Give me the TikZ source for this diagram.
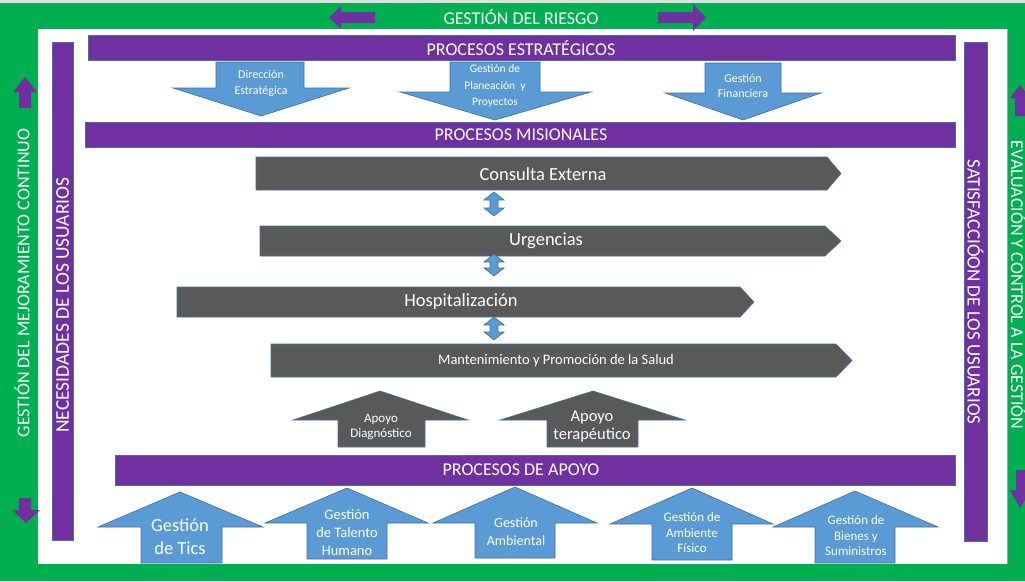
\documentclass[tikz,border=0pt]{standalone}
\usepackage{fontspec}
\setmainfont{Carlito}
\definecolor{grn}{HTML}{00B050}
\definecolor{purp}{HTML}{7030A0}
\definecolor{blu}{HTML}{5B9BD5}
\definecolor{bluedge}{HTML}{41719C}
\definecolor{dgray}{HTML}{595959}
\begin{document}
\begin{tikzpicture}[x=1pt,y=-1pt,
  purpbar/.style={fill=purp,draw=bluedge,line width=0.5pt},
  purparr/.style={fill=purp,draw=none},
  bluearr/.style={fill=blu,draw=bluedge,line width=0.6pt,line join=miter},
  grayarr/.style={fill=dgray,draw=bluedge,line width=0.6pt,line join=miter},
  wtxt/.style={text=white,inner sep=0pt,align=center},
  big/.style={wtxt,font=\fontsize{18}{22}\selectfont},
  mis/.style={wtxt,font=\fontsize{18.5}{22}\selectfont},
  sml/.style={wtxt,font=\fontsize{11.5}{15.5}\selectfont}
]
\useasboundingbox (0,0) rectangle (1025,581);
\fill[white] (0,0) rectangle (1025,581);
\fill[black!12] (0,0) rectangle (1025,3);
% green frame
\fill[grn] (0,3) rectangle (1025,581);
\fill[white] (38,29) rectangle (1007,564);
\draw[bluedge!60,line width=0.4pt] (1007,29) -- (1007,564);

% top band
\node[big] (riesgo) at (521,17) {GESTIÓN DEL RIESGO};
\fill[purparr] (329,17.5) -- (341,6) -- (341,12) -- (375,12) -- (375,23) -- (341,23) -- (341,29) -- cycle;
\fill[purparr] (706,17.5) -- (693,4) -- (693,12) -- (658,12) -- (658,23) -- (693,23) -- (693,31) -- cycle;

% left band
\node[big,rotate=90] (mejora) at (22,283) {GESTIÓN DEL MEJORAMIENTO CONTINUO};
\fill[purparr] (25,77) -- (37,92) -- (31,92) -- (31,108) -- (19,108) -- (19,92) -- (13,92) -- cycle;
\fill[purparr] (19,498) -- (31,498) -- (31,510) -- (40,510) -- (26,523) -- (12,510) -- (19,510) -- cycle;

% right band
\node[big,rotate=-90] (evalua) at (1018.5,285) {EVALUACIÓN Y CONTROL A LA GESTIÓN};
\begin{scope}
\clip (1007,29) rectangle (1025,564);
\fill[purparr] (1020,85) -- (1030,98) -- (1025,98) -- (1025,116) -- (1015,116) -- (1015,98) -- (1010,98) -- cycle;
\fill[purparr] (1016,470) -- (1026,470) -- (1026,490) -- (1031,490) -- (1020,508) -- (1010,490) -- (1016,490) -- cycle;
\end{scope}

% vertical purple bars
\draw[purpbar] (52,42) rectangle (73,540);
\node[wtxt,rotate=90,font=\fontsize{19.5}{22}\selectfont] (necesid) at (62.5,305) {NECESIDADES DE LOS USUARIOS};
\draw[purpbar] (964,42) rectangle (987,541);
\node[wtxt,rotate=-90,font=\fontsize{19}{22}\selectfont] (satisf) at (975.5,292) {SATISFACCIÓON DE LOS USUARIOS};

% horizontal purple bars
\draw[purpbar] (88,35) rectangle (955,60);
\node[big] (estrat) at (521,48) {PROCESOS ESTRATÉGICOS};
\draw[purpbar] (85,122) rectangle (955,147);
\node[big] (misio) at (521,135) {PROCESOS MISIONALES};
\draw[purpbar] (115,455) rectangle (955,485);
\node[big] (apoyo) at (521,470) {PROCESOS DE APOYO};

% strategic down arrows
\draw[bluearr] (216,62) -- (304,62) -- (304,88) -- (349,88) -- (261,116) -- (173,88) -- (216,88) -- cycle;
\node[sml,font=\fontsize{12}{16}\selectfont] (direc) at (261,83) {Dirección\\Estratégica};
\draw[bluearr] (450,62) -- (540,62) -- (540,92) -- (591,92) -- (495,120) -- (400,92) -- (450,92) -- cycle;
\node[sml,font=\fontsize{11.5}{16.5}\selectfont] (planea) at (495,86) {Gestión de\\Planeación~~y\\Proyectos};
\draw[bluearr] (705,63) -- (781,63) -- (781,93) -- (821,93) -- (743,120) -- (665,93) -- (705,93) -- cycle;
\node[sml,font=\fontsize{12}{15.5}\selectfont] (financ) at (743,86) {Gestión\\Financiera};

% misional pentagons
\draw[grayarr] (256,157) -- (827,157) -- (841,173.5) -- (827,190) -- (256,190) -- cycle;
\node[mis] (consulta) at (543,174) {Consulta Externa};
\draw[grayarr] (260,226) -- (825,226) -- (841,241) -- (825,256) -- (260,256) -- cycle;
\node[mis] (urgen) at (546,241) {Urgencias};
\draw[grayarr] (177,287) -- (740,287) -- (754,302) -- (740,317) -- (177,317) -- cycle;
\node[mis] (hosp) at (461,302) {Hospitalización};
\draw[grayarr] (271,344) -- (836,344) -- (852,360.5) -- (836,377) -- (271,377) -- cycle;
\node[wtxt,font=\fontsize{14.5}{17}\selectfont] (mant) at (556,361) {Mantenimiento y Promoción de la Salud};

% small double arrows
\foreach \t/\b in {192/216, 254/276, 317/340}{
  \draw[bluearr] (494,\t) -- (504,\t+8) -- (498,\t+8) -- (498,\b-8) -- (504,\b-8) -- (494,\b)
     -- (484,\b-8) -- (490,\b-8) -- (490,\t+8) -- (484,\t+8) -- cycle;
}

% apoyo gray up arrows
\draw[grayarr] (338,447) -- (338,420) -- (293,420) -- (380,391) -- (468,420) -- (425,420) -- (425,447) -- cycle;
\node[wtxt,font=\fontsize{13}{15.5}\selectfont] (diag) at (381,427) {Apoyo\\Diagnóstico};
\draw[grayarr] (547,447) -- (547,420) -- (500,420) -- (593,391) -- (685,420) -- (638,420) -- (638,447) -- cycle;
\node[wtxt,font=\fontsize{16.5}{18}\selectfont] (terap) at (592,427) {Apoyo\\terapéutico};

% support blue up arrows
\draw[bluearr] (141,563) -- (141,527) -- (98,527) -- (180,492) -- (263,527) -- (222,527) -- (222,563) -- cycle;
\node[wtxt,font=\fontsize{18.5}{23}\selectfont] (tics) at (180,537) {Gestión\\de Tics};
\draw[bluearr] (307,559) -- (307,523) -- (265,523) -- (347,488) -- (428,523) -- (387,523) -- (387,559) -- cycle;
\node[wtxt,font=\fontsize{14.5}{18}\selectfont] (talento) at (347,533) {Gestión\\de Talento\\Humano};
\draw[bluearr] (475,558) -- (475,523) -- (433,523) -- (515,487) -- (597,523) -- (555,523) -- (555,558) -- cycle;
\node[wtxt,font=\fontsize{14}{18}\selectfont] (ambient) at (516,532) {Gestión\\Ambiental};
\draw[bluearr] (652,560) -- (652,524) -- (610,524) -- (692,488) -- (773,524) -- (732,524) -- (732,560) -- cycle;
\node[wtxt,font=\fontsize{13}{15.5}\selectfont] (fisico) at (692,533) {Gestión de\\Ambiente\\Físico};
\draw[bluearr] (815,563) -- (815,527) -- (773,527) -- (855,491) -- (938,527) -- (895,527) -- (895,563) -- cycle;
\node[wtxt,font=\fontsize{13}{15.5}\selectfont] (bienes) at (856,536) {Gestión de\\Bienes y\\Suministros};
\end{tikzpicture}
\end{document}
